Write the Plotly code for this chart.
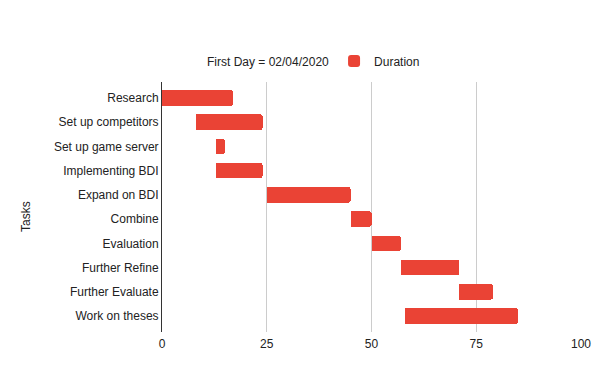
import plotly.graph_objects as go

tasks = ["Research", "Set up competitors", "Set up game server", "Implementing BDI",
         "Expand on BDI", "Combine", "Evaluation", "Further Refine",
         "Further Evaluate", "Work on theses"]
start_day = [0, 8, 13, 13, 25, 45, 50, 57, 71, 58]
duration = [17, 16, 2, 11, 20, 5, 7, 14, 8, 27]
x_ticks = [0, 25, 50, 75, 100]

FONT = "Liberation Sans, Arial, sans-serif"
RED = "#EA4335"

# page body has an 8px default margin, so the figure is sized to fill the window
OFF = 8
W, H = 600 - OFF, 371 - OFF
L, R, T, B = 162 - OFF, 19, 82 - OFF, 39
PH = H - T - B
PW = W - L - R

pad = 0.157
fig = go.Figure()
fig.add_trace(go.Bar(
    y=tasks, x=start_day, orientation="h", name="First Day = 02/04/2020",
    marker=dict(color="rgba(0,0,0,0)", line=dict(width=0)),
    hoverinfo="skip",
))
fig.add_trace(go.Bar(
    y=tasks, x=duration, orientation="h", name="Duration",
    marker=dict(color=RED, line=dict(width=0), cornerradius=2),
))

fig.update_layout(
    barmode="stack",
    bargap=0.365,
    width=W, height=H,
    margin=dict(l=L, r=R, t=T, b=B, autoexpand=False),
    paper_bgcolor="white", plot_bgcolor="white",
    font=dict(family=FONT, size=12, color="#222222"),
    showlegend=True,
    legend=dict(
        orientation="h", traceorder="normal",
        x=(167 - OFF - L) / PW, xanchor="left",
        y=1 + (T - (61 - OFF)) / PH, yanchor="middle",
        font=dict(family=FONT, size=12, color="#222222"),
        itemclick=False, bgcolor="rgba(0,0,0,0)",
    ),
    xaxis=dict(
        range=[0, 100], tickvals=x_ticks, ticktext=[str(v) for v in x_ticks],
        showgrid=True, gridcolor="#cccccc", gridwidth=1,
        zeroline=False, showline=False, ticks="", ticklabelstandoff=3,
        tickfont=dict(family=FONT, size=12, color="#222222"),
        automargin=False, fixedrange=True,
    ),
    yaxis=dict(
        range=[len(tasks) - 0.5 + pad, -0.5 - pad],
        showgrid=False, zeroline=False,
        showline=True, linecolor="#333333", linewidth=1, ticks="",
        ticklen=0, tickfont=dict(family=FONT, size=12, color="#222222"),
        automargin=False, fixedrange=True,
    ),
    annotations=[dict(
        text="Tasks", textangle=-90, xref="paper", yref="paper",
        x=(25.5 - OFF - L) / PW, y=1 - ((216.5 - OFF) - T) / PH,
        xanchor="center", yanchor="middle",
        showarrow=False, font=dict(family=FONT, size=12, color="#222222"),
    )],
)

fig.write_html("out.html")
